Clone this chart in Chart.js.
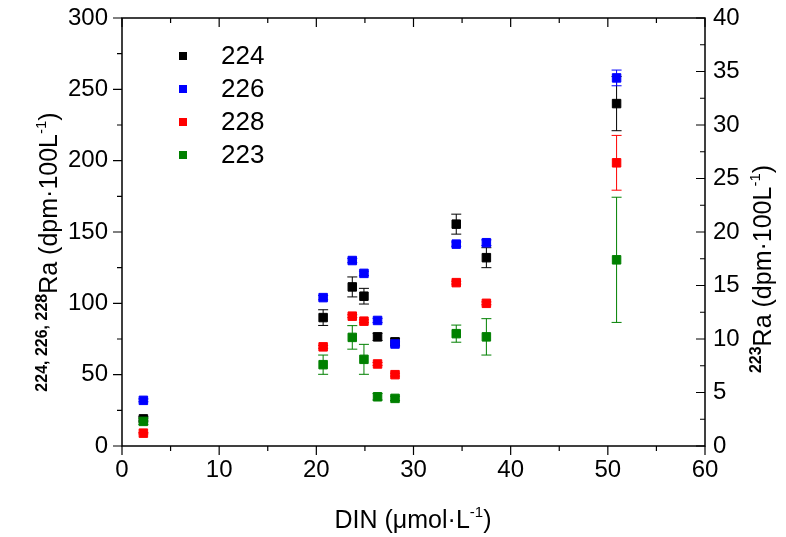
<!DOCTYPE html>
<html>
<head>
<meta charset="utf-8">
<script src="https://cdn.jsdelivr.net/npm/chart.js@4/dist/chart.umd.min.js"></script>
<style>
  html, body { margin: 0; padding: 0; background: #fff; }
  #wrap { width: 786px; height: 537px; }
</style>
</head>
<body>
<div id="wrap"><canvas id="raChart" width="786" height="537"></canvas></div>
<script>
// ---- data ----
const din = [2.2, 20.7, 23.7, 24.9, 26.3, 28.1, 34.4, 37.5, 50.9];

const ra224 = [19, 90, 111.5, 105, 76.5, 73, 155.5, 132, 240];
const ra224Err = [1.5, 5.5, 7, 5.5, 2.5, 2.5, 7, 7, 19];

const ra226 = [32, 104, 130, 121, 88, 71.5, 141.5, 142.5, 258];
const ra226Err = [1, 1.5, 1.5, 1.5, 1.5, 1.5, 1.5, 2, 5.5];

const ra228 = [9, 69.5, 91, 87.5, 57.5, 50, 114.5, 100, 198.5];
const ra228Err = [0.5, 1, 1, 1, 1, 1, 1, 1, 19.2];

// 223Ra is on the right axis
const ra223 = [2.3, 7.6, 10.15, 8.1, 4.6, 4.45, 10.5, 10.2, 17.4];
const ra223Err = [0.3, 0.9, 1.1, 1.4, 0.3, 0.2, 0.8, 1.7, 5.85];

const xTicks = [0, 10, 20, 30, 40, 50, 60];
const leftTicks = [0, 50, 100, 150, 200, 250, 300];
const rightTicks = [0, 5, 10, 15, 20, 25, 30, 35, 40];

const FONT = '"Liberation Sans", Arial, sans-serif';

function pts(ys) {
    return ys.map((y, i) => ({ x: din[i], y: y }));
}

function makeSet(label, ys, errs, color, axis, order) {
    return {
        label: label,
        data: pts(ys),
        errors: errs,
        yAxisID: axis,
        order: order,
        backgroundColor: color,
        borderColor: color,
        pointStyle: 'rect',
        pointRadius: 6,
        pointBorderWidth: 1,
        pointHoverRadius: 6,
        showLine: false
    };
}

// error bars, drawn just before each dataset so markers sit on top
const errorBars = {
    id: 'errorBars',
    beforeDatasetDraw(chart, args) {
        const ds = chart.data.datasets[args.index];
        const meta = args.meta;
        const yScale = chart.scales[meta.yAxisID];
        const ctx = chart.ctx;
        ctx.save();
        ctx.strokeStyle = ds.borderColor;
        ctx.lineWidth = 1;
        meta.data.forEach((pt, i) => {
            const v = ds.data[i].y, e = ds.errors[i];
            const yTop = yScale.getPixelForValue(v + e);
            const yBot = yScale.getPixelForValue(v - e);
            const x = pt.x;
            ctx.beginPath();
            ctx.moveTo(x, yTop); ctx.lineTo(x, yBot);
            ctx.moveTo(x - 5, yTop); ctx.lineTo(x + 5, yTop);
            ctx.moveTo(x - 5, yBot); ctx.lineTo(x + 5, yBot);
            ctx.stroke();
        });
        ctx.restore();
    }
};

// box frame with major/minor ticks (left & bottom outward, top & right inward)
const frame = {
    id: 'frame',
    afterDatasetsDraw(chart) {
        const { ctx, chartArea: ca, scales } = chart;
        ctx.save();
        ctx.strokeStyle = '#000';
        ctx.lineWidth = 1.5;
        ctx.strokeRect(ca.left, ca.top, ca.right - ca.left, ca.bottom - ca.top);
        ctx.lineWidth = 1.2;
        ctx.beginPath();
        for (let v = 0; v <= 60; v += 5) {
            const px = scales.x.getPixelForValue(v);
            const len = v % 10 === 0 ? 9 : 5;
            ctx.moveTo(px, ca.bottom); ctx.lineTo(px, ca.bottom + len);
            ctx.moveTo(px, ca.top); ctx.lineTo(px, ca.top + len);
        }
        for (let v = 0; v <= 300; v += 25) {
            const py = scales.y.getPixelForValue(v);
            const len = v % 50 === 0 ? 9 : 5;
            ctx.moveTo(ca.left, py); ctx.lineTo(ca.left - len, py);
        }
        for (let v = 0; v <= 40; v += 2.5) {
            const py = scales.y2.getPixelForValue(v);
            const len = v % 5 === 0 ? 9 : 5;
            ctx.moveTo(ca.right, py); ctx.lineTo(ca.right - len, py);
        }
        ctx.stroke();
        ctx.restore();
    }
};

function drawRich(ctx, parts, cx, cy, rot) {
    ctx.save();
    ctx.translate(cx, cy);
    ctx.rotate(rot);
    ctx.textAlign = 'left';
    ctx.textBaseline = 'alphabetic';
    ctx.fillStyle = '#000';
    let total = 0;
    parts.forEach(p => { ctx.font = p.font; p.w = ctx.measureText(p.t).width; total += p.w; });
    let x = -total / 2;
    parts.forEach(p => { ctx.font = p.font; ctx.fillText(p.t, x, p.dy || 0); x += p.w; });
    ctx.restore();
}

// axis titles with superscripts + legend inside the plot
const labels = {
    id: 'labels',
    afterDraw(chart) {
        const ctx = chart.ctx;
        const big = '25px ' + FONT;
        const sup = '15px ' + FONT;
        const supB = 'bold 16px ' + FONT;

        drawRich(ctx, [
            { t: 'DIN (\u03BCmol\u00B7L', font: big },
            { t: '-1', font: sup, dy: -11 },
            { t: ')', font: big }
        ], 413, 528, 0);

        drawRich(ctx, [
            { t: '224, 226, 228', font: supB, dy: -10 },
            { t: 'Ra (dpm\u00B7100L', font: big },
            { t: '-1', font: sup, dy: -11 },
            { t: ')', font: big }
        ], 57, 252, -Math.PI / 2);

        drawRich(ctx, [
            { t: '223', font: supB, dy: -10 },
            { t: 'Ra (dpm\u00B7100L', font: big },
            { t: '-1', font: sup, dy: -11 },
            { t: ')', font: big }
        ], 771, 269, -Math.PI / 2);

        // legend
        ctx.save();
        ctx.font = '26px ' + FONT;
        ctx.textBaseline = 'middle';
        ctx.textAlign = 'left';
        const ys = [56, 89, 122, 155];
        chart.data.datasets.forEach((ds, i) => {
            ctx.fillStyle = ds.backgroundColor;
            ctx.fillRect(179, ys[i] - 4, 8, 8);
            ctx.fillStyle = '#000';
            ctx.fillText(ds.label, 221, ys[i] + 1);
        });
        ctx.restore();
    }
};

function fixedTicks(arr) {
    return scale => { scale.ticks = arr.map(v => ({ value: v })); };
}

new Chart(document.getElementById('raChart'), {
    type: 'scatter',
    data: {
        datasets: [
            makeSet('224', ra224, ra224Err, '#000000', 'y', 4),
            makeSet('226', ra226, ra226Err, '#0000FF', 'y', 3),
            makeSet('228', ra228, ra228Err, '#FF0000', 'y', 2),
            makeSet('223', ra223, ra223Err, '#008000', 'y2', 1)
        ]
    },
    options: {
        responsive: false,
        animation: false,
        layout: { padding: { top: 18, left: 0, right: 0, bottom: 0 } },
        plugins: {
            legend: { display: false },
            tooltip: { enabled: false }
        },
        scales: {
            x: {
                type: 'linear',
                min: 0, max: 60,
                afterBuildTicks: fixedTicks(xTicks),
                afterFit: s => { s.height = 91; },
                grid: { display: false },
                border: { display: false },
                ticks: { color: '#000', font: { family: FONT, size: 24 }, padding: 2, maxRotation: 0 }
            },
            y: {
                position: 'left',
                min: 0, max: 300,
                afterBuildTicks: fixedTicks(leftTicks),
                afterFit: s => { s.width = 122; s.paddingTop = 0; s.paddingBottom = 0; },
                grid: { display: false },
                border: { display: false },
                ticks: { color: '#000', font: { family: FONT, size: 24 }, padding: 6 }
            },
            y2: {
                position: 'right',
                min: 0, max: 40,
                afterBuildTicks: fixedTicks(rightTicks),
                afterFit: s => { s.width = 81; s.paddingTop = 0; s.paddingBottom = 0; },
                grid: { display: false },
                border: { display: false },
                ticks: { color: '#000', font: { family: FONT, size: 24 }, padding: 0 }
            }
        }
    },
    plugins: [errorBars, frame, labels]
});
</script>
</body>
</html>
